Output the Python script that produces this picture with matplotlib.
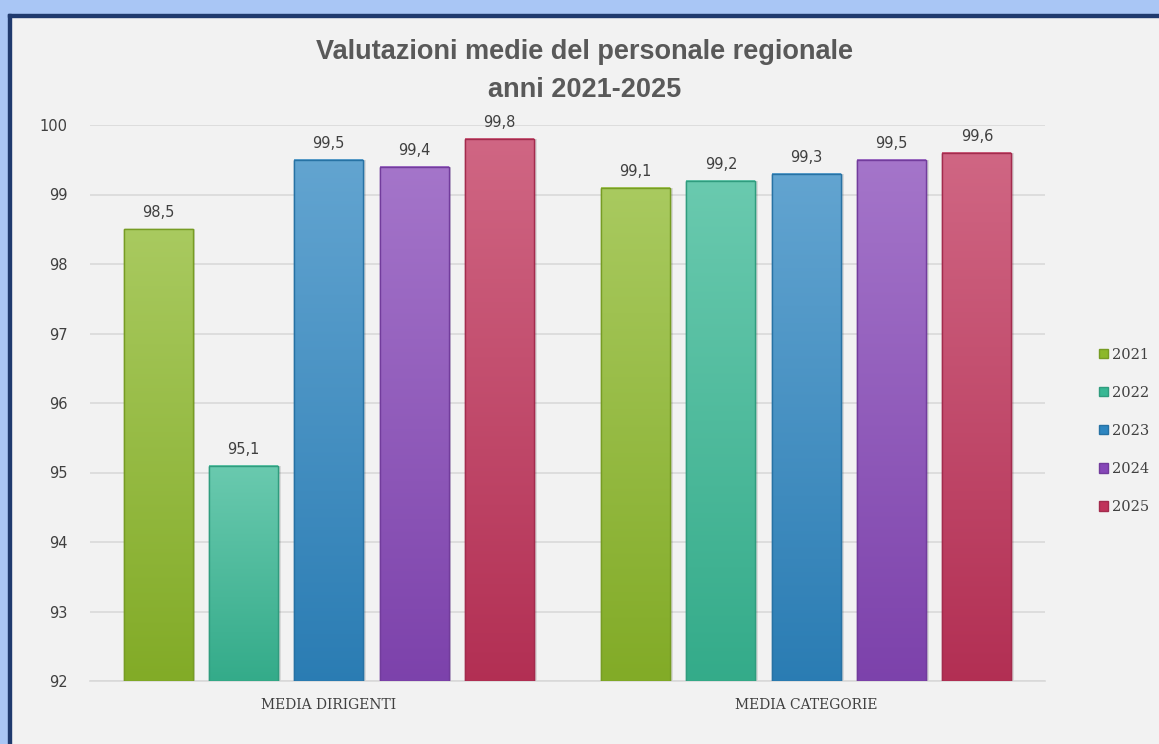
import matplotlib
matplotlib.use('Agg')
import matplotlib.pyplot as plt
import numpy as np
from matplotlib.colors import to_rgb
from matplotlib.patches import Rectangle

categories = ['MEDIA DIRIGENTI', 'MEDIA CATEGORIE']
years = ['2021', '2022', '2023', '2024', '2025']
values_2021 = [98.5, 99.1]
values_2022 = [95.1, 99.2]
values_2023 = [99.5, 99.3]
values_2024 = [99.4, 99.5]
values_2025 = [99.8, 99.6]
series = [values_2021, values_2022, values_2023, values_2024, values_2025]
colors = ['#8cb82a', '#38b894', '#2e86c1', '#8647b8', '#c0335a']

y_min, y_max = 92, 100

fig = plt.figure(figsize=(11.59, 7.44), dpi=100)
fig.patch.set_facecolor('#f2f2f2')

# window frame (light blue band + dark navy line)
fig.add_artist(Rectangle((0, 0), 8 / 1159, 1, transform=fig.transFigure, color='#a9c6f5', zorder=0))
fig.add_artist(Rectangle((0, 1 - 14 / 744), 1, 14 / 744, transform=fig.transFigure, color='#a9c6f5', zorder=0))
fig.add_artist(Rectangle((8 / 1159, 0), 3 / 1159, 1 - 14 / 744, transform=fig.transFigure, color='#1f3a6e', zorder=1))
fig.add_artist(Rectangle((8 / 1159, 1 - 17 / 744), 1, 3 / 744, transform=fig.transFigure, color='#1f3a6e', zorder=1))

ax = fig.add_axes([90 / 1159, 1 - 681 / 744, 955 / 1159, 556 / 744])
ax.set_facecolor('#f2f2f2')

x = np.arange(len(categories))
step = 0.1787
width = 0.1445

handles = []
for i, (vals, col) in enumerate(zip(series, colors)):
    pos = x + (i - 2) * step
    base = np.array(to_rgb(col))
    # shadow
    ax.bar(pos + 0.006, np.array(vals) - y_min, width, bottom=y_min,
           color='#000000', alpha=0.10, zorder=2, linewidth=0)
    bars = ax.bar(pos, np.array(vals) - y_min, width, bottom=y_min,
                  color=col, edgecolor=base * 0.85, linewidth=1.0, zorder=3, label=years[i])
    handles.append(bars)
    for b, v in zip(bars, vals):
        x0 = b.get_x()
        x1 = x0 + b.get_width()
        t = np.linspace(0, 1, 100)[:, None]
        top = base + (1 - base) * 0.25
        bot = base * 0.93
        grad = (top * (1 - t) + bot * t).reshape(100, 1, 3)
        ax.imshow(grad, extent=(x0, x1, y_min, v), aspect='auto', zorder=3.5,
                  origin='upper', interpolation='bilinear')
        ax.add_patch(Rectangle((x0, y_min), x1 - x0, v - y_min, fill=False,
                               edgecolor=base * 0.85, linewidth=1.0, zorder=4))
        ax.text(b.get_x() + b.get_width() / 2, v + 0.13, f'{v:.1f}'.replace('.', ','),
                ha='center', va='bottom', fontsize=10.5, color='#404040', zorder=5,
                family='DejaVu Sans')

ax.set_xlim(-0.5, 1.5)
ax.set_ylim(y_min, y_max)
ax.set_yticks(range(y_min, y_max + 1))
ax.set_xticks(x)
ax.set_xticklabels(categories, family='DejaVu Serif', fontsize=10, color='#404040')
ax.tick_params(axis='x', length=0, pad=12)
ax.tick_params(axis='y', length=0, pad=16, labelsize=10.5, labelcolor='#404040')
ax.grid(True, axis='y', color='#d9d9d9', linewidth=1.2, zorder=0)
ax.set_axisbelow(True)
for s in ['top', 'right', 'left']:
    ax.spines[s].set_visible(False)
ax.spines['bottom'].set_color('#d9d9d9')
ax.spines['bottom'].set_linewidth(1.2)

fig.text(585 / 1159, 1 - 52 / 744, 'Valutazioni medie del personale regionale',
         ha='center', va='center', fontsize=19.5, fontweight='bold', color='#595959',
         family='Liberation Sans')
fig.text(585 / 1159, 1 - 90 / 744, 'anni 2021-2025',
         ha='center', va='center', fontsize=19.5, fontweight='bold', color='#595959',
         family='Liberation Sans')

leg = fig.legend(handles=handles, labels=years, loc='center left',
                 bbox_to_anchor=(1086 / 1159, 1 - 431 / 744), frameon=False,
                 prop={'family': 'DejaVu Serif', 'size': 10.5}, labelcolor='#404040',
                 handlelength=0.6, handleheight=0.6, handletextpad=0.3, labelspacing=1.65)

fig.savefig('out.png', dpi=100, facecolor=fig.get_facecolor())
